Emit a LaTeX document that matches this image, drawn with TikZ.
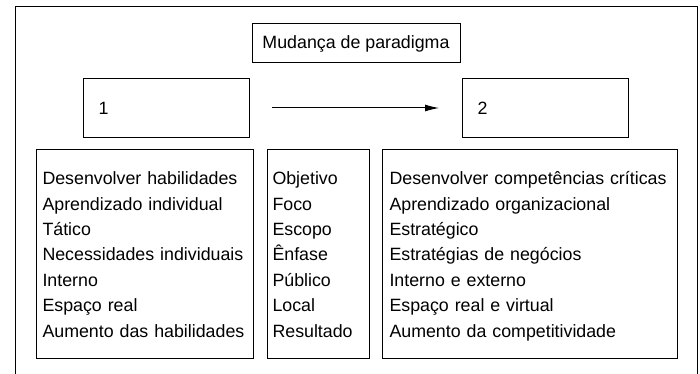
\documentclass[tikz,border=0pt]{standalone}
\usepackage{fontspec}
\setmainfont{Liberation Sans}
\usetikzlibrary{arrows.meta}
\newlength{\du}
\setlength{\du}{0.75pt}
\newcommand{\topo}{\rule{0pt}{16pt}}

\begin{document}
\begin{tikzpicture}[
  caixa/.style={draw, line width=1\du, inner ysep=0pt, align=left},
  texto/.style={font=\fontsize{13.35}{19.05}\selectfont},
  coluna/.style={caixa, texto, anchor=north west, minimum height=209\du}
]
\pgftransformxscale{1.000000}
\pgftransformyscale{-1.000000}
\useasboundingbox (0\du,0\du) rectangle (700\du,374\du);
% moldura
\draw[line width=1\du] (15\du,374\du)--(15\du,7\du)--(697\du,7\du)--(697\du,374\du);
% titulo
\node[caixa, texto, align=center, minimum width=208\du, minimum height=39\du] (titulo) at (356\du,43.5\du){Mudança de paradigma};
% estados 1 e 2
\node[caixa, texto, anchor=north west, minimum height=59\du, text width=136\du, inner xsep=15\du] (estado1) at (83\du,78\du){1};
\node[caixa, texto, anchor=north west, minimum height=59\du, text width=136\du, inner xsep=15\du] (estado2) at (462\du,78\du){2};
\draw[-{Latex[length=10.5pt,width=5.25pt]}, line width=1\du, shorten <=22\du, shorten >=23\du] (estado1) -- (estado2);
% colunas
\node[coluna, text width=205\du, inner xsep=6\du] (antes) at (36\du,149\du){\topo Desenvolver habilidades\\Aprendizado individual\\Tático\\Necessidades individuais\\Interno\\Espaço real\\Aumento das habilidades\strut};
\node[coluna, text width=92\du, inner xsep=5\du] (criterios) at (267\du,149\du){\topo Objetivo\\Foco\\Escopo\\Ênfase\\Público\\Local\\Resultado\strut};
\node[coluna, text width=281\du, inner xsep=7\du] (depois) at (382\du,149\du){\topo Desenvolver competências críticas\\Aprendizado organizacional\\Estratégico\\Estratégias de negócios\\Interno e externo\\Espaço real e virtual\\Aumento da competitividade\strut};
\end{tikzpicture}
\end{document}
